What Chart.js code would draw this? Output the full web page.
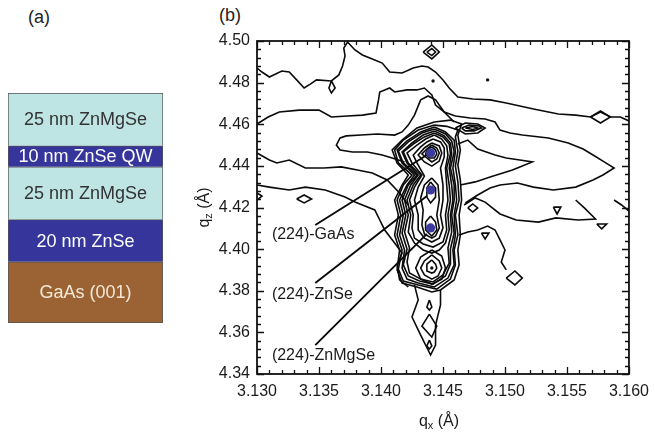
<!DOCTYPE html>
<html lang="en">
<head>
<meta charset="UTF-8">
<title>ZnSe QW structure and (224) reciprocal space map</title>
<script src="https://cdn.jsdelivr.net/npm/chart.js"></script>
<style>
  body {
    margin: 0;
    background: #fff;
    font-family: 'Liberation Sans', Arial, sans-serif;
    width: 655px;
    height: 435px;
    overflow: hidden;
    position: relative;
  }
  canvas { display: block; }
  .panel-tag { position: absolute; font-size: 18px; color: #222; line-height: 1; }
  #stackWrap { position: absolute; left: 8px; top: 93px; }
  #rsmWrap { position: absolute; left: 190px; top: 0; }
</style>
</head>
<body>
<div class="panel-tag" style="left:28px; top:8px;">(a)</div>
<div class="panel-tag" style="left:219px; top:6px;">(b)</div>
<div id="stackWrap"><canvas id="stackChart" width="155" height="230"></canvas></div>
<div id="rsmWrap"><canvas id="rsmChart" width="467" height="435"></canvas></div>

<script>
// ---- (a) layer stack, bottom to top ----
const layerNames = ['GaAs (001)', '20 nm ZnSe', '25 nm ZnMgSe', '10 nm ZnSe QW', '25 nm ZnMgSe'];
const layerThickness = [29, 20, 25, 10, 25]; // nm, substrate drawn at a nominal height
const layerColors = ['#9b6333', '#35359b', '#bfe4e4', '#35359b', '#bfe4e4'];
const layerTextColors = ['#f4e8d6', '#ffffff', '#333333', '#ffffff', '#333333'];

// ---- (b) (224) reciprocal space map ----
const qxRange = [3.130, 3.160];
const qzRange = [4.34, 4.50];

const peakNames = ['(224)-GaAs', '(224)-ZnSe', '(224)-ZnMgSe'];
const peakQx = [3.1440, 3.1440, 3.1440];
const peakQz = [4.4462, 4.4284, 4.4102];
const labelQx = [3.1312, 3.1312, 3.1312];
const labelQz = [4.4068, 4.3780, 4.3487];
const leaderStartQx = [3.1347, 3.1347, 3.1347];
const leaderStartQz = [4.4116, 4.3837, 4.3539];
const leaderEndQx = [3.1437, 3.1437, 3.1437];
const leaderEndQz = [4.4452, 4.4255, 4.4073];

// isolated single-pixel maxima
const specks = [[3.1442, 4.4808], [3.1486, 4.4813], [3.1441, 4.3909]];

// iso-intensity lines, [qx, qz]
const ridgeTop = [[3.1300,4.4870],[3.1304,4.4851],[3.1310,4.4827],[3.1320,4.4856],[3.1326,4.4851],[3.1332,4.4813],
  [3.1338,4.4774],[3.1343,4.4793],[3.1348,4.4813],[3.1360,4.4808],[3.1366,4.4837],[3.1369,4.4880],[3.1371,4.4928],
  [3.1370,4.4966],[3.1373,4.4995],[3.1379,4.4957],[3.1385,4.4933],[3.1393,4.4914],[3.1401,4.4894],[3.1407,4.4851],
  [3.1417,4.4846],[3.1426,4.4870],[3.1433,4.4880],[3.1438,4.4875],[3.1444,4.4851],[3.1450,4.4813],[3.1455,4.4774],
  [3.1462,4.4731],[3.1474,4.4721],[3.1488,4.4717],[3.1501,4.4702],[3.1523,4.4673],[3.1543,4.4649],[3.1557,4.4644],
  [3.1569,4.4635],[3.1577,4.4659],[3.1585,4.4635],[3.1593,4.4635],[3.1600,4.4616]];
const ridgeDrop = [[3.1360,4.4808],[3.1358,4.4774],[3.1360,4.4750],[3.1363,4.4774],[3.1360,4.4808]];
const midContour = [[3.1300,4.4601],[3.1309,4.4635],[3.1318,4.4659],[3.1334,4.4668],[3.1350,4.4668],[3.1360,4.4635],
  [3.1373,4.4640],[3.1385,4.4644],[3.1396,4.4654],[3.1398,4.4717],[3.1399,4.4755],[3.1407,4.4774],[3.1411,4.4755],
  [3.1421,4.4765],[3.1429,4.4765],[3.1435,4.4774],[3.1441,4.4741],[3.1444,4.4692],[3.1451,4.4659],[3.1460,4.4640],
  [3.1472,4.4630],[3.1484,4.4625],[3.1492,4.4611],[3.1496,4.4572],[3.1504,4.4558],[3.1514,4.4548],[3.1535,4.4534],
  [3.1551,4.4510],[3.1563,4.4481],[3.1571,4.4452],[3.1580,4.4419],[3.1588,4.4390],[3.1579,4.4356],[3.1571,4.4332],
  [3.1557,4.4298],[3.1539,4.4284],[3.1523,4.4298],[3.1510,4.4318],[3.1496,4.4308],[3.1488,4.4294],[3.1478,4.4260],
  [3.1468,4.4222]];
const lobeInner = [[3.1462,4.4505],[3.1470,4.4524],[3.1478,4.4481],[3.1492,4.4452],[3.1501,4.4438],[3.1512,4.4428],
  [3.1522,4.4419],[3.1512,4.4395],[3.1506,4.4380],[3.1488,4.4347],[3.1476,4.4323],[3.1464,4.4308]];
const tongue = [[3.1459,4.4611],[3.1451,4.4659],[3.1444,4.4717],[3.1438,4.4736],[3.1432,4.4717],[3.1427,4.4644],
  [3.1422,4.4596],[3.1417,4.4563],[3.1411,4.4548],[3.1397,4.4553],[3.1384,4.4548],[3.1372,4.4544],[3.1367,4.4534],
  [3.1364,4.4500],[3.1367,4.4476],[3.1377,4.4467],[3.1389,4.4467],[3.1401,4.4452],[3.1409,4.4438],[3.1419,4.4419]];
const leftBand = [[3.1300,4.4462],[3.1310,4.4428],[3.1316,4.4414],[3.1326,4.4428],[3.1339,4.4390],[3.1354,4.4390],
  [3.1368,4.4395],[3.1381,4.4380],[3.1393,4.4366],[3.1405,4.4332],[3.1415,4.4270],[3.1422,4.4212]];
const lowBand = [[3.1300,4.4308],[3.1310,4.4298],[3.1326,4.4284],[3.1339,4.4298],[3.1355,4.4284],[3.1371,4.4250],
  [3.1379,4.4226],[3.1395,4.4188],[3.1399,4.4140],[3.1403,4.4092],[3.1411,4.4029],[3.1417,4.3981],[3.1413,4.3924],
  [3.1415,4.3852],[3.1422,4.3818]];
const edgeLoop = [[3.1300,4.4270],[3.1304,4.4255],[3.1300,4.4236]];
const leftDiamond = [[3.1332,4.4241],[3.1338,4.4260],[3.1344,4.4241],[3.1338,4.4222],[3.1332,4.4241]];
const topDiamond = [[3.1434,4.4947],[3.1441,4.4981],[3.1447,4.4947],[3.1441,4.4914],[3.1434,4.4947]];
const topDiamondInner = [[3.1437,4.4947],[3.1441,4.4964],[3.1444,4.4947],[3.1441,4.4930],[3.1437,4.4947]];
const rightDiamond = [[3.1569,4.4635],[3.1577,4.4664],[3.1585,4.4635],[3.1577,4.4606],[3.1569,4.4635]];
const streakA = [[3.1460,4.4582],[3.1468,4.4606],[3.1478,4.4601],[3.1484,4.4582],[3.1478,4.4558],[3.1468,4.4553],[3.1460,4.4582]];
const streakB = [[3.1465,4.4582],[3.1471,4.4596],[3.1479,4.4592],[3.1481,4.4582],[3.1475,4.4568],[3.1468,4.4568],[3.1465,4.4582]];
const streakC = [[3.1468,4.4582],[3.1474,4.4589],[3.1478,4.4582],[3.1474,4.4575],[3.1468,4.4582]];
const shoulder = [[3.1463,4.4068],[3.1470,4.4082],[3.1478,4.4092],[3.1486,4.4111],[3.1492,4.4092],[3.1496,4.4044],
  [3.1500,4.3996],[3.1497,4.3938],[3.1501,4.3900]];
const sideContour = [[3.1467,4.4212],[3.1476,4.4246],[3.1484,4.4226],[3.1496,4.4169],[3.1509,4.4140],[3.1527,4.4130],
  [3.1541,4.4150],[3.1559,4.4140],[3.1573,4.4145],[3.1564,4.4198],[3.1557,4.4236]];
const edgeArc = [[3.1588,4.4236],[3.1594,4.4212],[3.1600,4.4183]];
const islandA = [[3.1470,4.4198],[3.1474,4.4217],[3.1478,4.4198],[3.1474,4.4178],[3.1470,4.4198]];
const islandB = [[3.1481,4.4077],[3.1487,4.4077],[3.1484,4.4049],[3.1481,4.4077]];
const islandC = [[3.1539,4.4202],[3.1545,4.4202],[3.1542,4.4169],[3.1539,4.4202]];
const islandD = [[3.1574,4.4121],[3.1582,4.4121],[3.1578,4.4097],[3.1574,4.4121]];
const islandE = [[3.1501,4.3861],[3.1508,4.3895],[3.1514,4.3861],[3.1508,4.3828],[3.1501,4.3861]];

// nested rings around the substrate / layer peaks, outermost first
const ring1 = [[3.1443,4.4611],[3.1456,4.4620],[3.1465,4.4601],[3.1462,4.4548],[3.1464,4.4476],[3.1462,4.4404],
  [3.1464,4.4332],[3.1465,4.4236],[3.1463,4.4164],[3.1464,4.4068],[3.1462,4.3996],[3.1463,4.3924],[3.1459,4.3852],
  [3.1448,4.3804],[3.1441,4.3794],[3.1429,4.3818],[3.1417,4.3837],[3.1413,4.3900],[3.1415,4.3996],[3.1411,4.4068],
  [3.1414,4.4164],[3.1411,4.4236],[3.1417,4.4308],[3.1422,4.4356],[3.1413,4.4414],[3.1409,4.4476],[3.1417,4.4524],
  [3.1429,4.4582],[3.1443,4.4611]];
const ring1b = [[3.1443,4.4596],[3.1453,4.4590],[3.1462,4.4572],[3.1460,4.4539],[3.1462,4.4471],[3.1460,4.4399],
  [3.1462,4.4323],[3.1463,4.4236],[3.1460,4.4164],[3.1462,4.4068],[3.1459,4.3996],[3.1460,4.3924],[3.1456,4.3856],
  [3.1445,4.3808],[3.1430,4.3828],[3.1418,4.3847],[3.1414,4.3904],[3.1417,4.3996],[3.1413,4.4068],[3.1416,4.4164],
  [3.1413,4.4236],[3.1418,4.4308],[3.1425,4.4356],[3.1414,4.4414],[3.1411,4.4476],[3.1418,4.4524],[3.1430,4.4572],
  [3.1443,4.4596]];
const ring2 = [[3.1443,4.4587],[3.1452,4.4563],[3.1459,4.4524],[3.1460,4.4467],[3.1458,4.4390],[3.1460,4.4308],
  [3.1461,4.4236],[3.1459,4.4164],[3.1460,4.4068],[3.1458,4.3996],[3.1459,4.3924],[3.1454,4.3861],[3.1443,4.3818],
  [3.1430,4.3837],[3.1421,4.3856],[3.1417,4.3909],[3.1419,4.3996],[3.1415,4.4068],[3.1418,4.4164],[3.1415,4.4236],
  [3.1421,4.4308],[3.1427,4.4356],[3.1417,4.4414],[3.1413,4.4476],[3.1421,4.4520],[3.1432,4.4563],[3.1443,4.4587]];
const ring2b = [[3.1443,4.4577],[3.1452,4.4553],[3.1457,4.4520],[3.1459,4.4467],[3.1456,4.4390],[3.1459,4.4308],
  [3.1459,4.4236],[3.1457,4.4164],[3.1459,4.4077],[3.1456,4.4001],[3.1456,4.3928],[3.1452,4.3871],[3.1442,4.3832],
  [3.1431,4.3847],[3.1422,4.3871],[3.1418,4.3924],[3.1421,4.4001],[3.1417,4.4077],[3.1420,4.4164],[3.1417,4.4236],
  [3.1422,4.4308],[3.1429,4.4356],[3.1418,4.4414],[3.1414,4.4471],[3.1422,4.4515],[3.1433,4.4558],[3.1443,4.4577]];
const ring3 = [[3.1443,4.4568],[3.1451,4.4544],[3.1456,4.4510],[3.1457,4.4462],[3.1455,4.4390],[3.1457,4.4308],
  [3.1458,4.4236],[3.1456,4.4164],[3.1457,4.4082],[3.1454,4.4005],[3.1455,4.3933],[3.1450,4.3876],[3.1442,4.3842],
  [3.1432,4.3856],[3.1423,4.3885],[3.1421,4.3938],[3.1423,4.4005],[3.1419,4.4082],[3.1422,4.4164],[3.1419,4.4236],
  [3.1424,4.4308],[3.1430,4.4356],[3.1421,4.4414],[3.1417,4.4467],[3.1425,4.4510],[3.1434,4.4548],[3.1443,4.4568]];
const ring3b = [[3.1443,4.4558],[3.1450,4.4539],[3.1455,4.4505],[3.1456,4.4457],[3.1453,4.4390],[3.1455,4.4308],
  [3.1456,4.4236],[3.1454,4.4164],[3.1455,4.4092],[3.1452,4.4029],[3.1447,4.3996],[3.1441,4.3981],[3.1434,4.3996],
  [3.1427,4.4029],[3.1422,4.4082],[3.1424,4.4164],[3.1421,4.4236],[3.1426,4.4308],[3.1432,4.4356],[3.1422,4.4414],
  [3.1418,4.4467],[3.1426,4.4505],[3.1435,4.4539],[3.1443,4.4558]];
const ring4 = [[3.1443,4.4548],[3.1449,4.4529],[3.1453,4.4496],[3.1454,4.4452],[3.1452,4.4390],[3.1453,4.4308],
  [3.1454,4.4236],[3.1452,4.4164],[3.1453,4.4092],[3.1450,4.4034],[3.1442,4.4010],[3.1434,4.4025],[3.1427,4.4053],
  [3.1425,4.4102],[3.1426,4.4164],[3.1423,4.4236],[3.1427,4.4298],[3.1433,4.4356],[3.1425,4.4414],[3.1421,4.4462],
  [3.1429,4.4500],[3.1436,4.4529],[3.1443,4.4548]];
const ring5 = [[3.1442,4.4529],[3.1448,4.4515],[3.1451,4.4486],[3.1451,4.4443],[3.1448,4.4390],[3.1450,4.4308],
  [3.1450,4.4236],[3.1448,4.4164],[3.1450,4.4102],[3.1447,4.4053],[3.1441,4.4034],[3.1435,4.4053],[3.1430,4.4092],
  [3.1430,4.4164],[3.1427,4.4236],[3.1430,4.4298],[3.1435,4.4351],[3.1429,4.4414],[3.1426,4.4452],[3.1432,4.4491],
  [3.1437,4.4515],[3.1442,4.4529]];
const ring6 = [[3.1441,4.4510],[3.1447,4.4496],[3.1449,4.4462],[3.1447,4.4423],[3.1441,4.4399],[3.1435,4.4419],
  [3.1430,4.4452],[3.1435,4.4486],[3.1441,4.4510]];
const ring6b = [[3.1441,4.4500],[3.1445,4.4486],[3.1447,4.4462],[3.1445,4.4433],[3.1441,4.4419],[3.1437,4.4438],
  [3.1433,4.4457],[3.1437,4.4481],[3.1441,4.4500]];
const ring7 = [[3.1441,4.4491],[3.1444,4.4476],[3.1445,4.4457],[3.1443,4.4438],[3.1439,4.4438],[3.1436,4.4457],
  [3.1437,4.4476],[3.1441,4.4491]];
const ring8 = [[3.1441,4.4342],[3.1446,4.4308],[3.1447,4.4236],[3.1445,4.4164],[3.1447,4.4102],[3.1444,4.4063],
  [3.1441,4.4053],[3.1435,4.4073],[3.1433,4.4116],[3.1434,4.4188],[3.1432,4.4246],[3.1435,4.4308],[3.1441,4.4342]];
const ring9 = [[3.1440,4.4323],[3.1444,4.4294],[3.1444,4.4250],[3.1440,4.4222],[3.1437,4.4250],[3.1437,4.4294],[3.1440,4.4323]];
const ring10 = [[3.1440,4.4159],[3.1444,4.4130],[3.1445,4.4092],[3.1441,4.4063],[3.1436,4.4092],[3.1436,4.4130],[3.1440,4.4159]];
const ring11 = [[3.1441,4.3996],[3.1449,4.3967],[3.1452,4.3909],[3.1449,4.3856],[3.1441,4.3832],[3.1432,4.3856],
  [3.1428,4.3909],[3.1432,4.3962],[3.1441,4.3996]];
const ring12 = [[3.1441,4.3972],[3.1447,4.3943],[3.1449,4.3909],[3.1446,4.3871],[3.1441,4.3856],[3.1435,4.3876],
  [3.1432,4.3909],[3.1435,4.3943],[3.1441,4.3972]];
const ring13 = [[3.1441,4.3948],[3.1444,4.3928],[3.1445,4.3909],[3.1443,4.3890],[3.1441,4.3885],[3.1437,4.3895],
  [3.1437,4.3909],[3.1437,4.3928],[3.1441,4.3948]];
const tailOuter = [[3.1427,4.3828],[3.1430,4.3756],[3.1425,4.3674],[3.1432,4.3587],[3.1440,4.3491],[3.1444,4.3539],
  [3.1444,4.3635],[3.1448,4.3732],[3.1448,4.3804]];
const tailInner = [[3.1439,4.3688],[3.1445,4.3630],[3.1441,4.3577],[3.1433,4.3630],[3.1439,4.3688]];
const tailDropA = [[3.1439,4.3756],[3.1441,4.3722],[3.1439,4.3708],[3.1437,4.3722],[3.1439,4.3756]];
const tailDropB = [[3.1439,4.3563],[3.1441,4.3535],[3.1439,4.3520],[3.1437,4.3535],[3.1439,4.3563]];

const contourLines = [ridgeTop, ridgeDrop, midContour, lobeInner, tongue, leftBand, lowBand, edgeLoop, leftDiamond,
  topDiamond, topDiamondInner, rightDiamond, streakA, streakB, streakC, shoulder, sideContour, edgeArc,
  islandA, islandB, islandC, islandD, islandE, ring1, ring1b, ring2, ring2b, ring3, ring3b, ring4, ring5,
  ring6, ring6b, ring7, ring8, ring9, ring10, ring11, ring12, ring13, tailOuter, tailInner, tailDropA, tailDropB];

const FONT = '"Liberation Sans", Arial, sans-serif';
Chart.defaults.font.family = FONT;
Chart.defaults.color = '#1a1a1a';

// ----- (a) -----
const layerText = {
  id: 'layerText',
  afterDatasetsDraw(chart) {
    const ctx = chart.ctx;
    ctx.save();
    ctx.font = '18px ' + FONT;
    ctx.textAlign = 'center';
    ctx.textBaseline = 'middle';
    chart.data.datasets.forEach((ds, i) => {
      const bar = chart.getDatasetMeta(i).data[0];
      ctx.fillStyle = layerTextColors[i];
      ctx.fillText(layerNames[i], bar.x, (bar.y + bar.base) / 2 + 1);
    });
    ctx.restore();
  }
};

new Chart(document.getElementById('stackChart'), {
  type: 'bar',
  data: {
    labels: [''],
    datasets: layerNames.map((name, i) => ({
      label: name,
      data: [layerThickness[i]],
      backgroundColor: layerColors[i],
      borderColor: '#555',
      borderWidth: { top: 1, left: 1, right: 1, bottom: i === 0 ? 1 : 0 },
      borderSkipped: false,
      barPercentage: 1,
      categoryPercentage: 1
    }))
  },
  options: {
    responsive: false,
    animation: false,
    layout: { padding: 0 },
    plugins: { legend: { display: false }, tooltip: { enabled: false } },
    scales: {
      x: { stacked: true, display: false },
      y: { stacked: true, display: false, min: 0, max: layerThickness.reduce((a, b) => a + b, 0) }
    }
  },
  plugins: [layerText]
});

// ----- (b) -----
function drawQTitle(ctx, sub, cx, cy, rot) {
  const big = '16px ' + FONT, small = '11px ' + FONT;
  ctx.save();
  ctx.translate(cx, cy);
  ctx.rotate(rot);
  ctx.fillStyle = '#1a1a1a';
  ctx.textBaseline = 'alphabetic';
  ctx.font = big;
  const wq = ctx.measureText('q').width;
  const wr = ctx.measureText(' (Å)').width;
  ctx.font = small;
  const ws = ctx.measureText(sub).width;
  let x = -(wq + ws + wr) / 2;
  ctx.font = big; ctx.fillText('q', x, 5); x += wq;
  ctx.font = small; ctx.fillText(sub, x, 8); x += ws;
  ctx.font = big; ctx.fillText(' (Å)', x, 5);
  ctx.restore();
}

const mapFrame = {
  id: 'mapFrame',
  afterDraw(chart) {
    const { ctx, chartArea: a, scales: { x, y } } = chart;
    ctx.save();
    ctx.strokeStyle = '#111';
    ctx.lineWidth = 1.3;
    ctx.beginPath();
    const nx = Math.round((x.max - x.min) / 0.001);
    for (let i = 0; i <= nx; i++) {
      const p = Math.round(x.getPixelForValue(x.min + i * 0.001)) + 0.5;
      const len = i % 5 === 0 ? 7 : 4;
      ctx.moveTo(p, a.bottom); ctx.lineTo(p, a.bottom - len);
      ctx.moveTo(p, a.top); ctx.lineTo(p, a.top + len);
    }
    const ny = Math.round((y.max - y.min) / 0.004);
    for (let i = 0; i <= ny; i++) {
      const p = Math.round(y.getPixelForValue(y.min + i * 0.004)) + 0.5;
      const len = i % 5 === 0 ? 7 : 4;
      ctx.moveTo(a.left, p); ctx.lineTo(a.left + len, p);
      ctx.moveTo(a.right, p); ctx.lineTo(a.right - len, p);
    }
    ctx.stroke();
    ctx.lineWidth = 1.8;
    ctx.strokeRect(a.left, a.top, a.right - a.left, a.bottom - a.top);

    // peak labels
    ctx.fillStyle = '#1a1a1a';
    ctx.font = '16px ' + FONT;
    ctx.textAlign = 'left';
    ctx.textBaseline = 'middle';
    peakNames.forEach((name, i) => {
      ctx.fillText(name, x.getPixelForValue(labelQx[i]), y.getPixelForValue(labelQz[i]));
    });

    // axis titles
    drawQTitle(ctx, 'x', (a.left + a.right) / 2 - 4, 421, 0);
    drawQTitle(ctx, 'z', 14, (a.top + a.bottom) / 2, -Math.PI / 2);
    ctx.restore();
  }
};

const toPts = arr => arr.map(([qx, qz]) => ({ x: qx, y: qz }));

const datasets = contourLines.map(line => ({
  data: toPts(line),
  showLine: true,
  pointRadius: 0,
  borderColor: '#0a0a0a',
  borderWidth: 1.6,
  fill: false,
  order: 3
}));

peakNames.forEach((name, i) => {
  datasets.push({
    data: [{ x: leaderStartQx[i], y: leaderStartQz[i] }, { x: leaderEndQx[i], y: leaderEndQz[i] }],
    showLine: true,
    pointRadius: 0,
    borderColor: '#0a0a0a',
    borderWidth: 1.9,
    order: 2
  });
});

datasets.push({
  data: toPts(specks),
  pointRadius: 1.7,
  backgroundColor: '#111',
  borderWidth: 0,
  order: 1
});

datasets.push({
  data: peakQx.map((qx, i) => ({ x: qx, y: peakQz[i] })),
  pointRadius: 4.6,
  backgroundColor: '#3b3b9e',
  borderWidth: 0,
  order: 0
});

new Chart(document.getElementById('rsmChart'), {
  type: 'scatter',
  data: { datasets },
  options: {
    responsive: false,
    animation: false,
    layout: { padding: { left: 0, top: 41, right: 20, bottom: 0 } },
    plugins: { legend: { display: false }, tooltip: { enabled: false } },
    scales: {
      x: {
        type: 'linear',
        min: qxRange[0],
        max: qxRange[1],
        grid: { display: false, drawTicks: false },
        border: { display: false },
        ticks: { stepSize: 0.005, padding: 8, maxRotation: 0, font: { size: 16 }, color: '#1a1a1a',
          callback: v => v.toFixed(3) },
        afterFit: s => { s.height = 61; }
      },
      y: {
        type: 'linear',
        min: qzRange[0],
        max: qzRange[1],
        grid: { display: false, drawTicks: false },
        border: { display: false },
        ticks: { stepSize: 0.02, padding: 7, font: { size: 16 }, color: '#1a1a1a',
          callback: v => v.toFixed(2) },
        afterFit: s => { s.width = 67; }
      }
    }
  },
  plugins: [mapFrame]
});
</script>
</body>
</html>
